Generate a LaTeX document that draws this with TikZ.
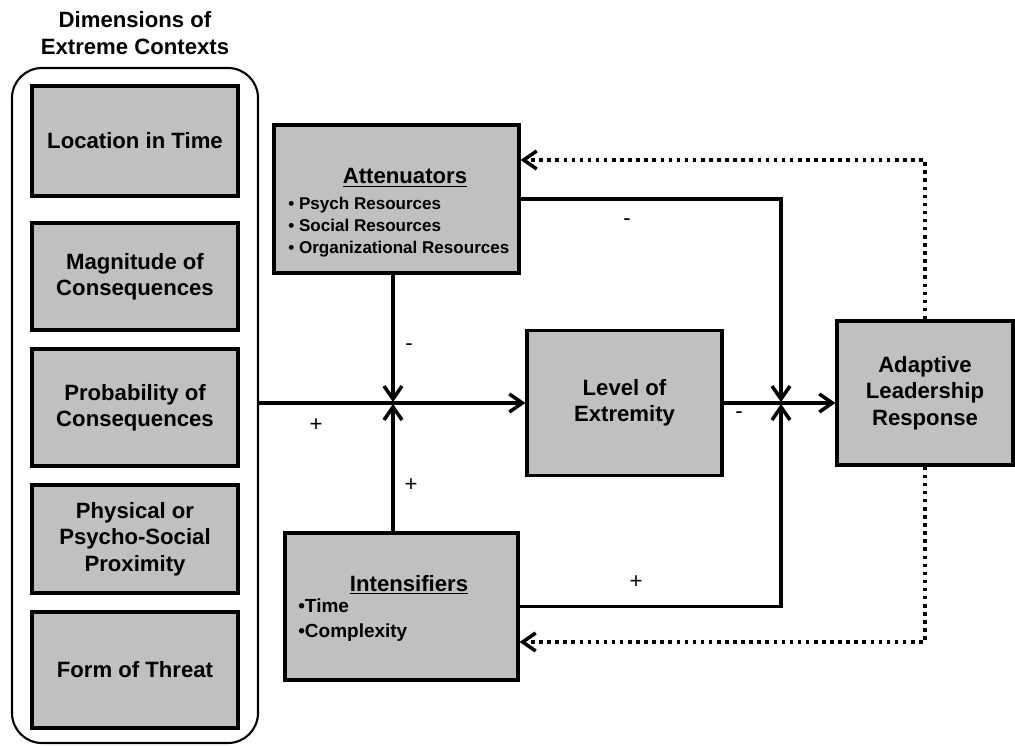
\documentclass[tikz,border=0pt]{standalone}
\usepackage{fontspec}
\setmainfont{Liberation Sans}
\usetikzlibrary{arrows.meta}

\definecolor{boxgray}{RGB}{192,192,192}

\tikzset{
  dimbox/.style={draw, line width=1.8pt, fill=boxgray, align=center, inner sep=0pt,
    font=\bfseries\fontsize{12.6}{15}\selectfont},
  headtext/.style={inner sep=0pt, font=\bfseries\fontsize{12.6}{15}\selectfont},
  listtext/.style={inner sep=0pt, align=left, anchor=west},
  link/.style={line width=2pt},
  feedback/.style={line width=2pt, dash pattern=on 2pt off 2.6pt},
  sign/.style={inner sep=0pt, font=\fontsize{12.6}{15}\selectfont},
}

\begin{document}
\begin{tikzpicture}[>={Straight Barb[length=2.6mm,width=3.6mm]}]
\useasboundingbox (0,0) rectangle (20.3,14.92);

% dimensions column
\node[headtext, align=center] (title) at (2.7,14.26) {Dimensions of\\Extreme Contexts};
\node[draw, line width=1.2pt, rounded corners=0.6cm, minimum width=4.92cm, minimum height=13.5cm] (dims) at (2.7,6.81) {};

\node[dimbox, minimum width=4.12cm, minimum height=2.2cm] (loc) at (2.7,12.1) {Location in Time};
\node[dimbox, minimum width=4.12cm, minimum height=2.14cm] (mag) at (2.7,9.39) {Magnitude of\\Consequences};
\node[dimbox, minimum width=4.12cm, minimum height=2.34cm] (prob) at (2.7,6.77) {Probability of\\Consequences};
\node[dimbox, minimum width=4.12cm, minimum height=2.16cm] (prox) at (2.7,4.14) {Physical or\\Psycho-Social\\Proximity};
\node[dimbox, minimum width=4.12cm, minimum height=2.32cm] (threat) at (2.7,1.52) {Form of Threat};

% moderators
\node[dimbox, minimum width=4.9cm, minimum height=2.96cm] (att) at (7.93,10.94) {};
\node[headtext] (attHead) at (8.1,11.36) {\underline{Attenuators}};
\node[listtext, font=\bfseries\fontsize{9.7}{12.7}\selectfont] (attList) at (5.76,10.38)
  {• Psych Resources\\• Social Resources\\• Organizational Resources};

\node[dimbox, minimum width=4.66cm, minimum height=2.94cm] (int) at (8.03,2.79) {};
\node[headtext] (intHead) at (8.18,3.22) {\underline{Intensifiers}};
\node[listtext, font=\bfseries\fontsize{10.8}{14.2}\selectfont] (intList) at (5.96,2.51)
  {•Time\\•Complexity};

\node[dimbox, minimum width=3.9cm, minimum height=2.9cm] (lev) at (12.49,6.86) {Level of\\Extremity};
\node[dimbox, minimum width=3.52cm, minimum height=2.88cm] (alr) at (18.5,7.06) {Adaptive\\Leadership\\Response};

\coordinate (jIn) at (7.86,6.86);
\coordinate (jOut) at (15.62,6.86);
\coordinate (fbTop) at (18.5,11.72);
\coordinate (fbBot) at (18.5,2.08);

% arrows into the junctions
\draw[link,->] (dims.east |- jIn) -- (jIn) -- (lev.west);
\draw[link,->,shorten >=0.5pt] (att.south -| jIn) -- (jIn);
\draw[link,->,shorten >=0.5pt] (int.north -| jIn) -- (jIn);
\draw[link,->] (lev.east) -- (jOut) -- (jOut -| alr.west);
\draw[link,->,shorten >=0.5pt] (att.east) -| (jOut);
\draw[link,->,shorten >=0.5pt] (int.east) -| (jOut);

% feedback loops
\draw[feedback,->] (alr.north) -- (alr.north |- fbTop) -- (att.east |- fbTop);
\draw[feedback,->] (alr.south) -- (alr.south |- fbBot) -- (int.east |- fbBot);

\node[sign] (sAttDown) at (8.18,7.98) {-};
\node[sign] (sInLeft) at (6.32,6.42) {+};
\node[sign] (sIntUp) at (8.22,5.22) {+};
\node[sign] (sAttRight) at (12.54,10.48) {-};
\node[sign] (sLevRight) at (14.78,6.62) {-};
\node[sign] (sIntRight) at (12.72,3.28) {+};

\end{tikzpicture}
\end{document}
